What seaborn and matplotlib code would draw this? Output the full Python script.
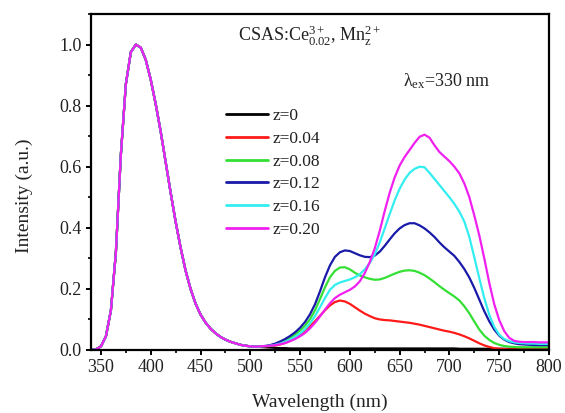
import numpy as np
import pandas as pd
import matplotlib
matplotlib.use("Agg")
import matplotlib.pyplot as plt
from matplotlib.ticker import MultipleLocator, FormatStrFormatter
import seaborn as sns

# ---------------- data ----------------
# shared UV (Ce3+) band, 340..505 nm step 5
band1_nm = [340, 345, 350, 355, 360, 365, 370, 375, 380, 385, 390, 395, 400, 405, 410,
            415, 420, 425, 430, 435, 440, 445, 450, 455, 460, 465, 470, 475, 480, 485,
            490, 495, 500, 505]
band1 = [0.000, 0.002, 0.012, 0.045, 0.130, 0.320, 0.640, 0.870, 0.975, 1.000, 0.990,
         0.950, 0.885, 0.805, 0.715, 0.615, 0.515, 0.420, 0.335, 0.260, 0.200, 0.152,
         0.116, 0.090, 0.070, 0.055, 0.043, 0.034, 0.027, 0.022, 0.017, 0.014, 0.012,
         0.011]

# Mn2+ band region, 510..800 nm step 5
band2_nm = [510, 515, 520, 525, 530, 535, 540, 545, 550, 555, 560, 565, 570, 575, 580,
            585, 590, 595, 600, 605, 610, 615, 620, 625, 630, 635, 640, 645, 650, 655,
            660, 665, 670, 675, 680, 685, 690, 695, 700, 705, 710, 715, 720, 725, 730,
            735, 740, 745, 750, 755, 760, 765, 770, 775, 780, 785, 790, 795, 800]

z0_tail = [0.010, 0.009, 0.008, 0.007, 0.006, 0.006, 0.005, 0.005, 0.005, 0.005,
           0.005, 0.005, 0.005, 0.005, 0.005, 0.005, 0.005, 0.005, 0.005, 0.005,
           0.005, 0.005, 0.005, 0.005, 0.005, 0.005, 0.005, 0.005, 0.005, 0.005,
           0.005, 0.005, 0.005, 0.005, 0.005, 0.005, 0.005, 0.005, 0.005, 0.005,
           0.004, 0.004, 0.004, 0.004, 0.004, 0.004, 0.004, 0.004, 0.004, 0.004,
           0.004, 0.004, 0.004, 0.004, 0.004, 0.004, 0.004, 0.004, 0.004]

z004_tail = [0.011, 0.012, 0.013, 0.015, 0.018, 0.023, 0.030, 0.039, 0.050, 0.064,
             0.078, 0.094, 0.112, 0.130, 0.146, 0.157, 0.162, 0.159, 0.151, 0.140,
             0.129, 0.119, 0.111, 0.104, 0.100, 0.098, 0.097, 0.095, 0.093, 0.091,
             0.089, 0.086, 0.083, 0.079, 0.075, 0.071, 0.067, 0.063, 0.060, 0.056,
             0.051, 0.045, 0.038, 0.030, 0.022, 0.015, 0.010, 0.006, 0.004, 0.003,
             0.002, 0.002, 0.002, 0.002, 0.002, 0.002, 0.002, 0.002, 0.002]

z008_tail = [0.012, 0.013, 0.015, 0.019, 0.024, 0.031, 0.040, 0.051, 0.064, 0.080,
             0.101, 0.130, 0.167, 0.205, 0.238, 0.259, 0.270, 0.271, 0.264, 0.253,
             0.244, 0.238, 0.233, 0.230, 0.231, 0.236, 0.243, 0.250, 0.256, 0.260,
             0.261, 0.259, 0.253, 0.245, 0.234, 0.222, 0.209, 0.197, 0.186, 0.175,
             0.162, 0.143, 0.120, 0.093, 0.067, 0.047, 0.033, 0.023, 0.017, 0.013,
             0.011, 0.010, 0.009, 0.009, 0.009, 0.009, 0.009, 0.009, 0.009]

z012_tail = [0.012, 0.013, 0.016, 0.021, 0.028, 0.036, 0.046, 0.058, 0.073, 0.092,
             0.117, 0.150, 0.192, 0.238, 0.277, 0.305, 0.320, 0.326, 0.324, 0.317,
             0.310, 0.305, 0.304, 0.309, 0.322, 0.341, 0.362, 0.382, 0.398, 0.409,
             0.415, 0.415, 0.408, 0.398, 0.385, 0.370, 0.352, 0.336, 0.322, 0.308,
             0.288, 0.265, 0.237, 0.203, 0.165, 0.127, 0.094, 0.067, 0.047, 0.034,
             0.026, 0.022, 0.019, 0.018, 0.017, 0.016, 0.016, 0.016, 0.016]

z016_tail = [0.012, 0.013, 0.014, 0.017, 0.021, 0.027, 0.034, 0.043, 0.054, 0.068,
             0.087, 0.111, 0.140, 0.170, 0.197, 0.213, 0.221, 0.226, 0.231, 0.238,
             0.248, 0.264, 0.285, 0.313, 0.352, 0.398, 0.445, 0.490, 0.528, 0.558,
             0.580, 0.593, 0.600, 0.598, 0.580, 0.560, 0.540, 0.520, 0.500, 0.478,
             0.453, 0.420, 0.370, 0.303, 0.235, 0.170, 0.115, 0.076, 0.050, 0.036,
             0.029, 0.025, 0.023, 0.022, 0.021, 0.021, 0.020, 0.020, 0.020]

z020_tail = [0.012, 0.013, 0.014, 0.016, 0.019, 0.023, 0.029, 0.036, 0.045, 0.056,
             0.071, 0.089, 0.110, 0.132, 0.153, 0.170, 0.181, 0.189, 0.197, 0.208,
             0.225, 0.252, 0.288, 0.333, 0.390, 0.455, 0.515, 0.565, 0.604, 0.632,
             0.655, 0.678, 0.698, 0.705, 0.695, 0.670, 0.648, 0.633, 0.618, 0.600,
             0.578, 0.545, 0.500, 0.440, 0.375, 0.300, 0.220, 0.150, 0.098, 0.062,
             0.040, 0.030, 0.027, 0.026, 0.026, 0.026, 0.025, 0.025, 0.025]

labels = ["z=0", "z=0.04", "z=0.08", "z=0.12", "z=0.16", "z=0.20"]
tails = [z0_tail, z004_tail, z008_tail, z012_tail, z016_tail, z020_tail]
colors = ["#000000", "#ff1a1a", "#33e033", "#1a1aa8", "#33eef0", "#f020f0"]

xticks = [350, 400, 450, 500, 550, 600, 650, 700, 750, 800]
yticks = [0.0, 0.2, 0.4, 0.6, 0.8, 1.0]

rows = []
for lab, tail in zip(labels, tails):
    for w, v in zip(band1_nm + band2_nm, band1 + tail):
        rows.append((w, v, lab))
df = pd.DataFrame(rows, columns=["Wavelength", "Intensity", "z"])

# ---------------- style ----------------
sns.set_theme(style="ticks")
plt.rcParams["font.family"] = ["Liberation Serif", "DejaVu Serif"]
plt.rcParams["mathtext.fontset"] = "custom"
plt.rcParams["mathtext.rm"] = "Liberation Serif"
plt.rcParams["mathtext.it"] = "Liberation Serif:italic"
plt.rcParams["mathtext.bf"] = "Liberation Serif:bold"

fig = plt.figure(figsize=(5.65, 4.13), dpi=100)
ax = fig.add_axes([91 / 565, 1 - 350 / 413, 458 / 565, 336 / 413])

sns.lineplot(data=df, x="Wavelength", y="Intensity", hue="z", hue_order=labels,
             palette=colors, linewidth=1.6, ax=ax, sort=False, estimator=None)

ax.set_xlim(340, 800)
ax.set_ylim(0, 1.1)
ax.set_xticks(xticks)
ax.set_yticks(yticks)
ax.xaxis.set_minor_locator(MultipleLocator(25))
ax.yaxis.set_minor_locator(MultipleLocator(0.1))
ax.yaxis.set_major_formatter(FormatStrFormatter("%.1f"))
ax.tick_params(axis="both", which="major", direction="out", length=3.8, width=1.4,
               labelsize=13, pad=3, color="black", labelcolor="#222222")
ax.tick_params(axis="both", which="minor", direction="out", length=2.4, width=1.2,
               color="black")
for sp in ax.spines.values():
    sp.set_linewidth(1.6)
    sp.set_color("black")

ax.set_xlabel("Wavelength (nm)", fontsize=14, color="#222222", va="center")
ax.set_ylabel("Intensity (a.u.)", fontsize=14, color="#222222", va="center")
ax.xaxis.set_label_coords(0.5, -0.155)
ax.yaxis.set_label_coords(-0.146, 0.46)

ax.text(0.478, 0.935, r"CSAS:Ce$^{3+}_{0.02}$, Mn$^{2+}_{\mathrm{z}}$", transform=ax.transAxes,
        fontsize=13, ha="center", va="center", color="#222222")
ax.text(0.777, 0.80, r"λ$_{\mathrm{ex}}$=330 nm", transform=ax.transAxes,
        fontsize=13, ha="center", va="center", color="#222222")

leg = ax.legend(loc="upper left", bbox_to_anchor=(0.295, 0.72), frameon=False,
                fontsize=12.5, handlelength=2.4, handletextpad=0.25, labelspacing=0.38,
                borderpad=0, borderaxespad=0)
for t in leg.get_texts():
    t.set_color("#222222")
for h in leg.get_lines():
    h.set_linewidth(2.0)

fig.savefig("out.png", dpi=100)
